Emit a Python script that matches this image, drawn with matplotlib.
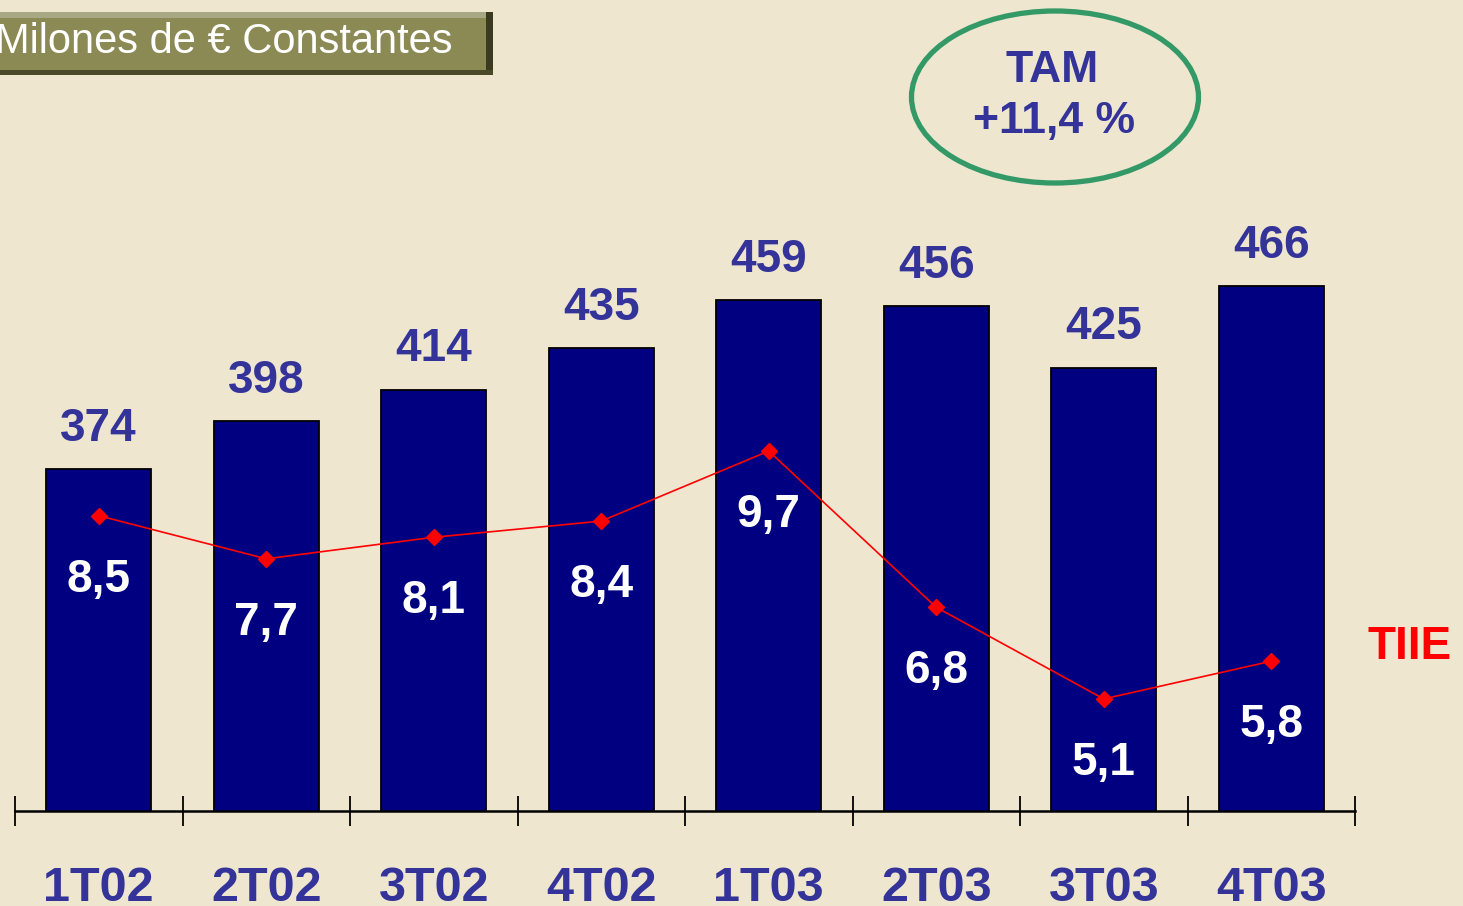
import matplotlib
matplotlib.use("Agg")
import matplotlib.pyplot as plt
from matplotlib.patches import Ellipse, Rectangle
import numpy as np

categories = ["1T02", "2T02", "3T02", "4T02", "1T03", "2T03", "3T03", "4T03"]
ventas = [374, 398, 414, 435, 459, 456, 425, 466]
tiie = [8.5, 7.7, 8.1, 8.4, 9.7, 6.8, 5.1, 5.8]
value_labels = ["374", "398", "414", "435", "459", "456", "425", "466"]
tiie_labels = ["8,5", "7,7", "8,1", "8,4", "9,7", "6,8", "5,1", "5,8"]
title_text = "Milones de € Constantes"
tam_text = ["TAM", "+11,4 %"]
series_label = "TIIE"

W, H = 1463, 906
BG = "#EFE6D0"
NAVY = "#000080"
LBL = "#333399"
FONT = "Liberation Sans"

fig = plt.figure(figsize=(W / 100, H / 100), dpi=100, facecolor=BG)

def fx(px):
    return px / W

def fy(py):
    return 1 - py / H

base_px = 811
left_px, right_px = 15, 1355
ax = fig.add_axes([fx(left_px), fy(base_px), fx(right_px - left_px), base_px / H])
ax.set_facecolor("none")
ax.patch.set_visible(False)

x = np.arange(len(categories))
ax.bar(x, ventas, width=0.627, color=NAVY, edgecolor="black", linewidth=1.3, zorder=2)
ax.set_xlim(-0.5, len(categories) - 0.5)
ax.set_ylim(202, 610)

for s in ["top", "right", "left"]:
    ax.spines[s].set_visible(False)
ax.spines["bottom"].set_linewidth(1.8)
ax.spines["bottom"].set_zorder(3)
ax.set_yticks([])
ax.set_xticks(np.arange(-0.5, len(categories), 1.0))
ax.set_xticklabels([])
ax.tick_params(axis="x", direction="inout", length=22, width=1.3, color="black")

for xi, v, lab in zip(x, ventas, value_labels):
    ax.annotate(lab, (xi, v), xytext=(0, 29), textcoords="offset points",
                ha="center", va="center", fontsize=33, fontweight="bold",
                color=LBL, family=FONT)

for xi, lab in zip(x, categories):
    ax.annotate(lab, (xi, 0), xycoords=("data", "axes fraction"), xytext=(0, -56),
                textcoords="offset points", ha="center", va="center",
                fontsize=35, fontweight="bold", color=LBL, family=FONT,
                annotation_clip=False)

ax2 = ax.twinx()
ax2.patch.set_visible(False)
ax2.set_ylim(3.02, 18.07)
ax2.set_yticks([])
for s in ax2.spines.values():
    s.set_visible(False)
ax2.plot(x, tiie, color="#FF0000", linewidth=1.2, marker="D", markersize=8,
         markerfacecolor="#FF0000", markeredgecolor="#FF0000", zorder=4)
for xi, v, lab in zip(x, tiie, tiie_labels):
    ax2.annotate(lab, (xi, v), xytext=(0, -46), textcoords="offset points",
                 ha="center", va="center", fontsize=33, fontweight="bold",
                 color="white", family=FONT)

fig.text(fx(1410), fy(647), series_label, ha="center", va="center", fontsize=33,
         fontweight="bold", color="#FF0000", family=FONT)

# Title box
box = Rectangle((fx(-10), fy(75)), fx(503), (75 - 12) / H, transform=fig.transFigure,
                facecolor="#8B8A55", edgecolor="none", zorder=1)
fig.patches.append(box)
shadow = Rectangle((fx(486), fy(75)), fx(7), (75 - 12) / H, transform=fig.transFigure,
                   facecolor="#3A3A20", edgecolor="none", zorder=1)
fig.patches.append(shadow)
topband = Rectangle((fx(-10), fy(18)), fx(496), 6 / H, transform=fig.transFigure,
                    facecolor="#A9A884", edgecolor="none", zorder=1)
fig.patches.append(topband)
botband = Rectangle((fx(-10), fy(75)), fx(503), 5 / H, transform=fig.transFigure,
                    facecolor="#4A4A2A", edgecolor="none", zorder=1)
fig.patches.append(botband)
fig.text(fx(-5), fy(42), title_text, ha="left", va="center", fontsize=30,
         color="white", family=FONT)

# TAM ellipse
ell = Ellipse((fx(1055), fy(97)), fx(287), 172 / H, transform=fig.transFigure,
              facecolor="none", edgecolor="#339966", linewidth=3.8, zorder=2)
fig.patches.append(ell)
fig.text(fx(1052), fy(70), tam_text[0], ha="center", va="center", fontsize=32,
         fontweight="bold", color=LBL, family=FONT)
fig.text(fx(1054), fy(122), tam_text[1], ha="center", va="center", fontsize=32,
         fontweight="bold", color=LBL, family=FONT)

fig.savefig("out.png", dpi=100, facecolor=BG)
